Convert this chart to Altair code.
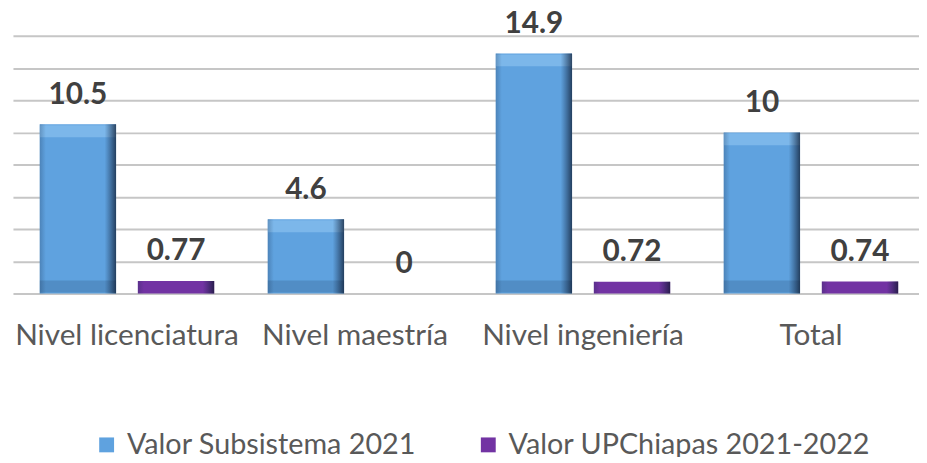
import altair as alt
import pandas as pd

categorias = ["Nivel licenciatura", "Nivel maestría", "Nivel ingeniería", "Total"]
series = ["Valor Subsistema 2021", "Valor UPChiapas 2021-2022"]
subsistema = [10.5, 4.6, 14.9, 10]
upchiapas = [0.77, 0, 0.72, 0.74]
colores = ["#5FA2DF", "#7233A3"]
y_ticks = [0, 2, 4, 6, 8, 10, 12, 14, 16]

rows = []
for i, c in enumerate(categorias):
    rows.append({"categoria": c, "serie": series[0], "valor": subsistema[i]})
    rows.append({"categoria": c, "serie": series[1], "valor": upchiapas[i]})
df = pd.DataFrame(rows)

FONT = "Lato"

x_enc = alt.X(
    "categoria:N",
    sort=categorias,
    title=None,
    scale=alt.Scale(paddingInner=0.2348, paddingOuter=0.1044, align=0.5625),
    axis=alt.Axis(
        labelAngle=0,
        labelFont=FONT,
        labelFontSize=30,
        labelColor="#595959",
        labelLimit=0,
        labelOverlap=False,
        domain=False,
        ticks=False,
        tickSize=0,
        labelPadding=27,
    ),
)
xoff_enc = alt.XOffset(
    "serie:N", sort=series, scale=alt.Scale(paddingInner=0.222, paddingOuter=0)
)
y_scale = alt.Scale(domain=[0, 16], nice=False)
y_axis = alt.Axis(
    values=y_ticks,
    labels=False,
    ticks=False,
    domain=False,
    grid=True,
    gridColor="#C6C6C6",
    gridWidth=2,
)
y_enc = alt.Y("valor:Q", title=None, scale=y_scale, axis=y_axis)
y_zero = alt.Y(datum=0, title=None, scale=y_scale, axis=y_axis)

base = alt.Chart(df)

bars = base.mark_bar().encode(
    x=x_enc,
    xOffset=xoff_enc,
    y=y_enc,
    color=alt.Color(
        "serie:N",
        sort=series,
        scale=alt.Scale(domain=series, range=colores),
        legend=alt.Legend(
            title=None,
            orient="none",
            legendX=80,
            legendY=398,
            direction="horizontal",
            symbolType="square",
            symbolSize=225,
            symbolStrokeWidth=0,
            labelFont=FONT,
            labelFontSize=29,
            labelColor="#595959",
            labelLimit=0,
            labelOffset=6,
            columnPadding=58,
            padding=0,
        ),
    ),
)

# bevel: light top strip and darker bottom strip on the tall bars
top_strip = base.transform_filter(
    alt.datum.serie == series[0]
).mark_tick(size=77, thickness=12, color="#A8D8FA", opacity=0.4, yOffset=7).encode(
    x=x_enc, xOffset=xoff_enc, y=y_enc
)
bottom_strip = base.transform_filter(
    alt.datum.serie == series[0]
).mark_tick(size=77, thickness=12, color="#1B3C5E", opacity=0.2, yOffset=-7).encode(
    x=x_enc, xOffset=xoff_enc, y=y_zero
)

shade = base.mark_bar(
    fill=alt.Gradient(
        gradient="linear",
        x1=0, x2=1, y1=0, y2=0,
        stops=[
            alt.GradientStop(color="rgba(20,40,70,0.25)", offset=0),
            alt.GradientStop(color="rgba(20,40,70,0)", offset=0.08),
            alt.GradientStop(color="rgba(20,40,70,0)", offset=0.85),
            alt.GradientStop(color="rgba(10,20,40,0.7)", offset=1),
        ],
    )
).encode(x=x_enc, xOffset=xoff_enc, y=y_enc)

labels = base.mark_text(
    font=FONT, fontSize=30, fontWeight="bold", color="#404040",
    dy=-21, baseline="alphabetic",
).encode(x=x_enc, xOffset=xoff_enc, y=y_enc, text=alt.Text("valor:Q"))

chart = (
    alt.layer(bars, top_strip, bottom_strip, shade, labels)
    .properties(
        width=914,
        height=260,
        autosize=alt.AutoSizeParams(type="none"),
        padding={"left": 5, "top": 26, "right": 0, "bottom": 163},
    )
    .configure_view(stroke=None)
)

chart.save("out.html", embed_options={"renderer": "svg", "actions": False})
